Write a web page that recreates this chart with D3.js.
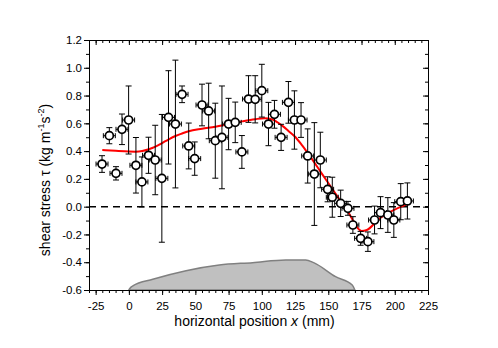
<!DOCTYPE html>
<html>
<head>
<meta charset="utf-8">
<script src="https://cdn.jsdelivr.net/npm/d3@7"></script>
<style>
  body { margin: 0; background: #fff; }
  svg text { font-family: "Liberation Sans", Arial, sans-serif; }
</style>
</head>
<body>
<div id="chart"></div>
<script>
// measured points
var xPos = [-20.2, -14.7, -9.7, -5.2, -0.2, 5.3, 9.8, 14.8, 19.8, 24.8,
  29.8, 35.0, 40.0, 45.0, 49.5, 55.0, 60.0, 65.0, 70.0, 75.0,
  80.0, 85.0, 90.0, 95.0, 100.0, 105.0, 109.5, 114.5, 120.0, 124.5,
  129.5, 134.5, 139.5, 144.0, 149.5, 153.0, 159.3, 164.8, 168.5, 174.3,
  179.8, 184.8, 189.3, 194.8, 199.3, 204.5, 209.5];
var tau = [0.307, 0.511, 0.240, 0.557, 0.624, 0.298, 0.178, 0.370, 0.336, 0.204,
  0.643, 0.595, 0.809, 0.437, 0.346, 0.732, 0.689, 0.475, 0.499, 0.595,
  0.607, 0.394, 0.775, 0.773, 0.835, 0.595, 0.665, 0.499, 0.751, 0.624,
  0.624, 0.365, 0.235, 0.336, 0.125, 0.068, 0.024, -0.012, -0.132, -0.228,
  -0.252, -0.096, -0.043, -0.060, -0.096, 0.036, 0.041];
var tauErr = [0.06, 0.058, 0.048, 0.11, 0.245, 0.20, 0.18, 0.13, 0.25, 0.46,
  0.336, 0.46, 0.06, 0.165, 0.12, 0.15, 0.20, 0.27, 0.37, 0.185,
  0.146, 0.118, 0.168, 0.17, 0.19, 0.156, 0.10, 0.094, 0.15, 0.21,
  0.125, 0.195, 0.37, 0.20, 0.09, 0.144, 0.095, 0.05, 0.06, 0.05,
  0.07, 0.10, 0.115, 0.125, 0.125, 0.13, 0.13];
var xErr = 4.5;

// red fitted curve
var fitX = [-20, -10, 0, 5, 10, 15, 20, 25, 30, 35, 40, 45, 55, 65, 75, 85, 95, 102,
  108, 112, 116, 120, 125, 130, 135, 145, 155, 165, 175, 179, 188, 209];
var fitY = [0.408, 0.402, 0.397, 0.396, 0.400, 0.413, 0.432, 0.458, 0.485, 0.509, 0.527,
  0.543, 0.561, 0.576, 0.595, 0.614, 0.630, 0.637, 0.628, 0.606, 0.578, 0.545, 0.503,
  0.445, 0.380, 0.240, 0.100, -0.040, -0.175, -0.168, -0.089, 0.017];

// grey bedform profile
var moundX = [0, 1, 3, 18, 43, 68, 93, 118, 133, 139, 155.5, 168, 170];
var moundY = [-0.6, -0.585, -0.571, -0.523, -0.461, -0.42, -0.403, -0.384, -0.384,
  -0.403, -0.504, -0.564, -0.6];

var xTicks = [-25, 0, 25, 50, 75, 100, 125, 150, 175, 200, 225];
var xTickLabels = ['-25', '0', '25', '50', '75', '100', '125', '150', '175', '200', '225'];
var yTicks = [1.2, 1.0, 0.8, 0.6, 0.4, 0.2, 0.0, -0.2, -0.4, -0.6];
var yTickLabels = ['1.2', '1.0', '0.8', '0.6', '0.4', '0.2', '0.0', '-0.2', '-0.4', '-0.6'];

var width = 498, height = 348;
var margin = { left: 89, top: 40, right: 70, bottom: 58 };
var w = width - margin.left - margin.right;
var h = height - margin.top - margin.bottom;

var svg = d3.select('#chart').append('svg')
  .attr('width', width)
  .attr('height', height);

var g = svg.append('g')
  .attr('transform', 'translate(' + margin.left + ',' + margin.top + ')');

var x = d3.scaleLinear().domain([-30, 225]).range([0, w]);
var y = d3.scaleLinear().domain([-0.6, 1.2]).range([h, 0]);

var xMinor = d3.range(-30, 226, 5);
var yMinor = d3.range(-6, 13, 1).map(function(d) { return d / 10; });

// mound
var mound = moundX.map(function(d, i) { return [d, moundY[i]]; });
g.append('path')
  .datum(mound)
  .attr('fill', '#c0c0c0')
  .attr('stroke', '#808080')
  .attr('stroke-width', 1.5)
  .attr('d', d3.area()
    .x(function(d) { return x(d[0]); })
    .y0(y(-0.6))
    .y1(function(d) { return y(d[1]); })
    .curve(d3.curveMonotoneX));

// zero line
g.append('line')
  .attr('x1', 0).attr('x2', w)
  .attr('y1', y(0)).attr('y2', y(0))
  .attr('stroke', '#000')
  .attr('stroke-width', 1.5)
  .attr('stroke-dasharray', '7,5');

// axes: minor then major
function axisGroup(axis, tr) {
  var a = g.append('g').attr('transform', tr).call(axis);
  a.select('.domain').attr('stroke', '#000');
  a.selectAll('text').remove();
  return a;
}
axisGroup(d3.axisBottom(x).tickValues(xMinor).tickSize(3).tickSizeOuter(0), 'translate(0,' + h + ')');
axisGroup(d3.axisTop(x).tickValues(xMinor).tickSize(-3).tickSizeOuter(0), 'translate(0,0)');
axisGroup(d3.axisLeft(y).tickValues(yMinor).tickSize(3).tickSizeOuter(0), 'translate(0,0)');
axisGroup(d3.axisRight(y).tickValues(yMinor).tickSize(-3).tickSizeOuter(0), 'translate(' + w + ',0)');

var xb = g.append('g').attr('transform', 'translate(0,' + h + ')')
  .call(d3.axisBottom(x).tickValues(xTicks).tickSize(5).tickSizeOuter(0)
    .tickFormat(function(d, i) { return xTickLabels[i]; }));
xb.select('.domain').remove();
xb.selectAll('text').attr('font-size', 11.5).attr('dy', '1.0em').attr('fill', '#000')
  .style('font-family', '"Liberation Sans", Arial, sans-serif');

var yl = g.append('g')
  .call(d3.axisLeft(y).tickValues(yTicks).tickSize(5).tickSizeOuter(0)
    .tickFormat(function(d, i) { return yTickLabels[i]; }));
yl.select('.domain').remove();
yl.selectAll('text').attr('font-size', 11.5).attr('x', -7).attr('fill', '#000')
  .style('font-family', '"Liberation Sans", Arial, sans-serif');

var xt = g.append('g').call(d3.axisTop(x).tickValues(xTicks).tickSize(-5).tickSizeOuter(0));
xt.select('.domain').remove();
xt.selectAll('text').remove();
var yr = g.append('g').attr('transform', 'translate(' + w + ',0)')
  .call(d3.axisRight(y).tickValues(yTicks).tickSize(-5).tickSizeOuter(0));
yr.select('.domain').remove();
yr.selectAll('text').remove();

// fit curve
var fit = fitX.map(function(d, i) { return [d, fitY[i]]; });
g.append('path')
  .datum(fit)
  .attr('fill', 'none')
  .attr('stroke', '#ff0000')
  .attr('stroke-width', 2)
  .attr('d', d3.line()
    .x(function(d) { return x(d[0]); })
    .y(function(d) { return y(d[1]); })
    .curve(d3.curveMonotoneX));

// error bars and points
var pts = xPos.map(function(d, i) { return { x: d, y: tau[i], e: tauErr[i] }; });
var cap = 3;
var eb = g.append('g').attr('stroke', '#000').attr('stroke-width', 1);
pts.forEach(function(p) {
  var cx = x(p.x), cy = y(p.y), t = y(p.y + p.e), b = y(p.y - p.e);
  var l = x(p.x - xErr), r = x(p.x + xErr);
  eb.append('line').attr('x1', cx).attr('x2', cx).attr('y1', t).attr('y2', b);
  eb.append('line').attr('x1', cx - cap).attr('x2', cx + cap).attr('y1', t).attr('y2', t);
  eb.append('line').attr('x1', cx - cap).attr('x2', cx + cap).attr('y1', b).attr('y2', b);
  eb.append('line').attr('x1', l).attr('x2', r).attr('y1', cy).attr('y2', cy);
  eb.append('line').attr('x1', l).attr('x2', l).attr('y1', cy - 2.5).attr('y2', cy + 2.5);
  eb.append('line').attr('x1', r).attr('x2', r).attr('y1', cy - 2.5).attr('y2', cy + 2.5);
});

g.selectAll('circle.pt')
  .data(pts)
  .enter()
  .append('circle')
  .attr('class', 'pt')
  .attr('cx', function(d) { return x(d.x); })
  .attr('cy', function(d) { return y(d.y); })
  .attr('r', 4)
  .attr('fill', '#fff')
  .attr('stroke', '#000')
  .attr('stroke-width', 1.7);

// axis titles
var xt2 = svg.append('text')
  .attr('x', margin.left + w / 2 - 4)
  .attr('y', 325.5)
  .attr('text-anchor', 'middle')
  .attr('font-size', 14);
xt2.append('tspan').text('horizontal position ');
xt2.append('tspan').attr('font-style', 'italic').text('x');
xt2.append('tspan').text(' (mm)');

var yt = svg.append('text')
  .attr('transform', 'translate(50,180) rotate(-90)')
  .attr('text-anchor', 'middle')
  .attr('font-size', 14);
yt.append('tspan').text('shear stress τ (kg m');
yt.append('tspan').attr('font-size', 9).attr('dy', -6).text('-1');
yt.append('tspan').attr('dy', 6).text('s');
yt.append('tspan').attr('font-size', 9).attr('dy', -6).text('-2');
yt.append('tspan').attr('dy', 6).text(')');
</script>
</body>
</html>
